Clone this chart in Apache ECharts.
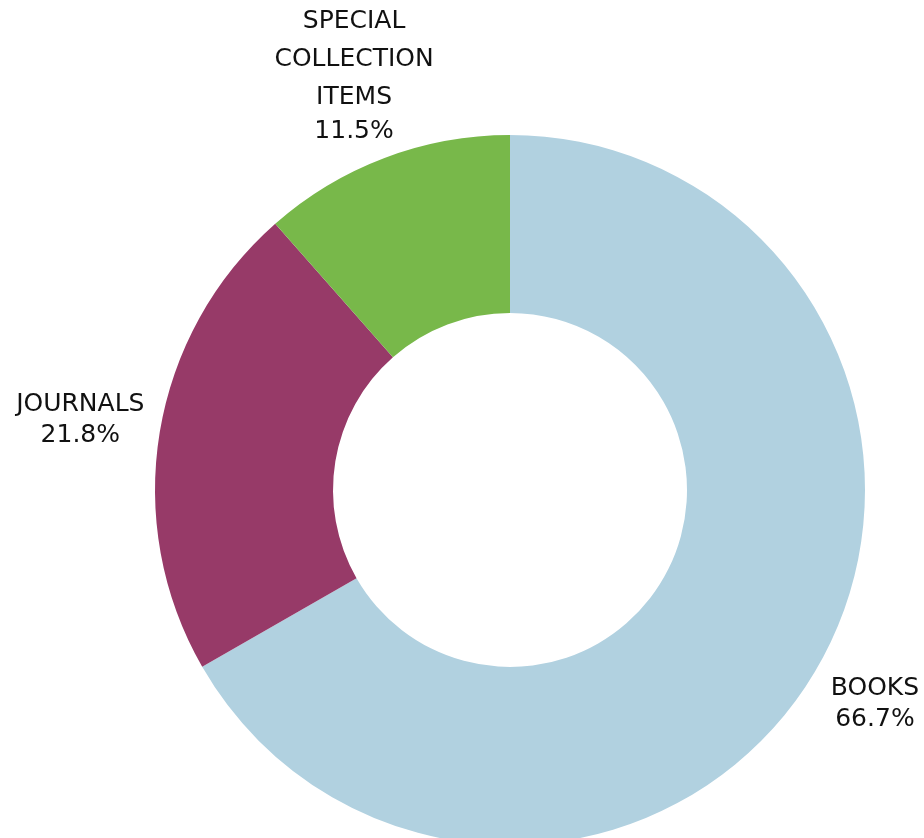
<!DOCTYPE html>
<html><head><meta charset="utf-8">
<script src="https://cdn.jsdelivr.net/npm/echarts@6/dist/echarts.min.js"></script>
<style>html,body{margin:0;padding:0;background:#fff}#c{width:924px;height:838px}</style>
</head><body><div id="c"></div>
<script>
const categories = ["BOOKS", "JOURNALS", "SPECIAL COLLECTION ITEMS"];
const shares = [66.7, 21.8, 11.5];
const colors = ["#b1d1e0", "#973a68", "#78b84a"];

const chart = echarts.init(document.getElementById('c'), null, {renderer: 'canvas'});
const font = '"DejaVu Sans", sans-serif';
const data = categories.map((c, i) => ({name: c, value: shares[i], itemStyle: {color: colors[i]}}));
const labelOffsets = [[-12, -4], [0, 1], [-2, -8]];
const labelData = categories.map((c, i) => ({
  name: c, value: shares[i],
  label: {offset: labelOffsets[i], rich: {n: {lineHeight: i === 2 ? 38 : 31}}}
}));
chart.setOption({
  animation: false,
  series: [
    {
      type: 'pie', center: [510, 490], radius: [177, 355], startAngle: 90, clockwise: true,
      label: {show: false}, labelLine: {show: false}, silent: true,
      data: data
    },
    {
      type: 'pie', center: [510, 490], radius: [425, 440], startAngle: 90, clockwise: true,
      percentPrecision: 1, silent: true,
      itemStyle: {color: 'rgba(0,0,0,0)'},
      labelLine: {show: false},
      label: {
        show: true, position: 'inside', rotate: 0,
        formatter: p => p.name.split(' ').map(w => '{n|' + w + '}').join('\n') + '\n{p|' + p.percent.toFixed(1) + '%}',
        rich: {
          n: {fontFamily: font, fontSize: 25, color: '#111', lineHeight: 31, align: 'center'},
          p: {fontFamily: font, fontSize: 25, color: '#111', lineHeight: 31, align: 'center'}
        }
      },
      data: labelData
    }
  ]
});
</script></body></html>
